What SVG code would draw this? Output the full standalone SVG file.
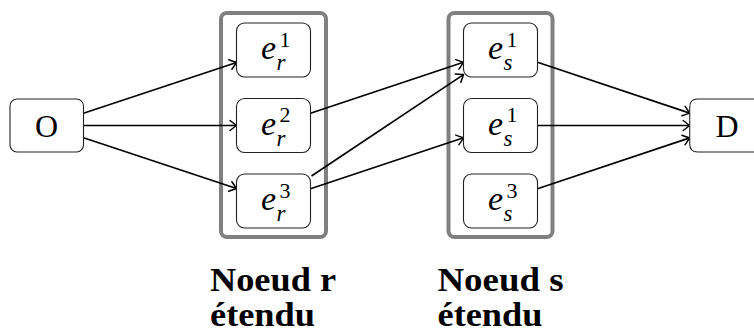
<svg xmlns="http://www.w3.org/2000/svg" width="754" height="332" viewBox="0 0 754 332">
<defs>
<style>
.box{fill:#fff;stroke:#222;stroke-width:1.1}
.grp{fill:none;stroke:#808080;stroke-width:4}
.edge{fill:none;stroke:#000;stroke-width:1.7;marker-end:url(#to)}
text{font-family:'Liberation Serif','Times New Roman',Times,'DejaVu Serif','Noto Serif',serif;fill:#000}
.rm{font-size:32px}
.mi{font-style:italic;font-size:34px}
.sp{font-size:22px}
.sb{font-style:italic;font-size:23px}
.lbl{font-weight:bold;font-size:33px}
</style>
<marker id="to" markerUnits="userSpaceOnUse" markerWidth="14" markerHeight="14" viewBox="-9 -7 11 14" refX="0" refY="0" orient="auto">
<path d="M-6.5,-5 Q-1.5,-1.2 0,0 Q-1.5,1.2 -6.5,5" fill="none" stroke="#000" stroke-width="1.5" stroke-linecap="round"/>
</marker>
</defs>

<g id="group-r"><rect class="grp" x="221" y="13" width="105" height="224" rx="6"/></g>
<g id="group-s"><rect class="grp" x="448.5" y="13" width="104" height="224" rx="6"/></g>

<g id="connectors">
<path class="edge" d="M83.5,113.2 L236.5,62.5"/>
<path class="edge" d="M83.5,125.5 L236.5,125.5"/>
<path class="edge" d="M83.5,137.8 L236.5,188.5"/>
<path class="edge" d="M310.5,113.2 L463.5,62.3"/>
<path class="edge" d="M311.5,176 L463.5,74.6"/>
<path class="edge" d="M310.5,188.7 L463.5,137.8"/>
<path class="edge" d="M537.5,62.3 L689.7,113.1"/>
<path class="edge" d="M537.5,125.5 L689.7,125.5"/>
<path class="edge" d="M537.5,188.7 L689.7,137.9"/>
</g>

<g id="node-O">
<rect class="box" x="10" y="99" width="73.5" height="53" rx="7"/>
<text class="rm" x="46.5" y="137" text-anchor="middle">O</text>
</g>

<g id="node-er1">
<rect class="box" x="236.5" y="23" width="74" height="54" rx="8"/>
<text><tspan class="mi" x="261" y="59">e</tspan><tspan class="sp" x="279.5" y="46.5">1</tspan><tspan class="sb" x="276.5" y="70">r</tspan></text>
</g>
<g id="node-er2">
<rect class="box" x="236.5" y="98.5" width="74" height="54" rx="8"/>
<text><tspan class="mi" x="261" y="134.5">e</tspan><tspan class="sp" x="279.5" y="122">2</tspan><tspan class="sb" x="276.5" y="145.5">r</tspan></text>
</g>
<g id="node-er3">
<rect class="box" x="236.5" y="174" width="74" height="54" rx="8"/>
<text><tspan class="mi" x="261" y="210">e</tspan><tspan class="sp" x="279.5" y="197.5">3</tspan><tspan class="sb" x="276.5" y="221">r</tspan></text>
</g>

<g id="node-es1">
<rect class="box" x="463.5" y="23" width="74" height="54" rx="8"/>
<text><tspan class="mi" x="488" y="59">e</tspan><tspan class="sp" x="506.5" y="46.5">1</tspan><tspan class="sb" x="503.5" y="70">s</tspan></text>
</g>
<g id="node-es2">
<rect class="box" x="463.5" y="98.5" width="74" height="54" rx="8"/>
<text><tspan class="mi" x="488" y="134.5">e</tspan><tspan class="sp" x="506.5" y="122">1</tspan><tspan class="sb" x="503.5" y="145.5">s</tspan></text>
</g>
<g id="node-es3">
<rect class="box" x="463.5" y="174" width="74" height="54" rx="8"/>
<text><tspan class="mi" x="488" y="210">e</tspan><tspan class="sp" x="506.5" y="197.5">3</tspan><tspan class="sb" x="503.5" y="221">s</tspan></text>
</g>

<g id="node-D">
<path class="box" d="M755,99 L697.7,99 Q689.7,99 689.7,107 L689.7,144 Q689.7,152 697.7,152 L755,152"/>
<text class="rm" x="727" y="137" text-anchor="middle">D</text>
</g>

<g id="label-r">
<text class="lbl" x="210" y="291" textLength="126" lengthAdjust="spacingAndGlyphs">Noeud r</text>
<text class="lbl" x="210" y="326" textLength="105" lengthAdjust="spacingAndGlyphs">étendu</text>
</g>
<g id="label-s">
<text class="lbl" x="437.5" y="291" textLength="126" lengthAdjust="spacingAndGlyphs">Noeud s</text>
<text class="lbl" x="437.5" y="326" textLength="105" lengthAdjust="spacingAndGlyphs">étendu</text>
</g>
</svg>
